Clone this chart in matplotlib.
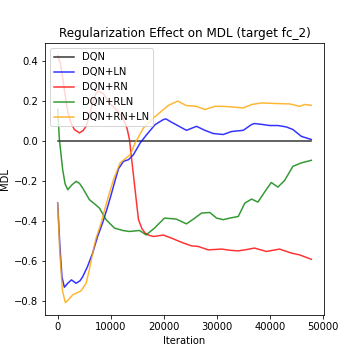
import matplotlib
matplotlib.use("Agg")
import matplotlib.pyplot as plt

dqn_x = [0, 47800]
dqn_y = [0.0, 0.0]

ln_x = [0, 400, 800, 1260, 1900, 2600, 3470, 4200, 4720, 5600, 6600, 7500, 8490, 9300, 10070, 10800, 11450, 12400,
        13340, 14280, 15550, 16790, 18380, 19940, 20400, 21510, 23090, 24280, 26170, 27740, 29320, 31210, 32770,
        34980, 36550, 37110, 38680, 39940, 41510, 43090, 44340, 45920, 47810]
ln_y = [-0.311, -0.52, -0.68, -0.732, -0.712, -0.695, -0.712, -0.700, -0.679, -0.63, -0.560, -0.48, -0.408, -0.34,
        -0.270, -0.20, -0.140, -0.102, -0.094, -0.069, -0.010, 0.032, 0.082, 0.107, 0.110, 0.093, 0.070, 0.053, 0.073,
        0.053, 0.037, 0.032, 0.047, 0.053, 0.082, 0.087, 0.082, 0.077, 0.077, 0.070, 0.057, 0.023, 0.007]

rn_x = [0, 500, 940, 1400, 1890, 2500, 3150, 4090, 4800, 5360, 6000, 6600, 7100, 7550, 8490, 9750, 11020, 12000,
        12580, 13100, 13530, 14400, 15230, 15900, 16490, 17200, 18060, 19940, 21800, 23720, 25230, 26490, 28380, 30890,
        32500, 34040, 35300, 37110, 39320, 41830, 44030, 45600, 47810]
rn_y = [0.427, 0.39, 0.316, 0.23, 0.148, 0.09, 0.057, 0.040, 0.052, 0.073, 0.13, 0.190, 0.230, 0.249, 0.240, 0.190,
        0.157, 0.125, 0.098, 0.06, 0.007, -0.20, -0.394, -0.44, -0.461, -0.472, -0.478, -0.471, -0.490, -0.511, -0.525,
        -0.528, -0.545, -0.541, -0.547, -0.550, -0.545, -0.536, -0.553, -0.541, -0.561, -0.570, -0.592]

rln_x = [0, 320, 940, 1400, 1890, 2600, 3470, 4100, 4720, 5980, 6920, 7870, 9130, 10700, 12260, 13530, 15420, 16680,
         18250, 20130, 22340, 24280, 25850, 27110, 28680, 29940, 31210, 32450, 34040, 35280, 36550, 37740, 39000, 40260,
         41510, 42770, 44340, 45920, 47810]
rln_y = [0.157, 0.007, -0.144, -0.215, -0.244, -0.222, -0.202, -0.212, -0.236, -0.294, -0.314, -0.336, -0.394, -0.436,
         -0.448, -0.453, -0.448, -0.470, -0.436, -0.386, -0.391, -0.415, -0.386, -0.361, -0.358, -0.386, -0.394, -0.386,
         -0.378, -0.311, -0.291, -0.306, -0.256, -0.208, -0.231, -0.198, -0.127, -0.110, -0.097]

rnln_x = [0, 400, 900, 1450, 2000, 2830, 3600, 4410, 5360, 6000, 6600, 7200, 8190, 9000, 9750, 10510, 11770, 13660,
          14600, 16170, 18060, 19940, 20890, 22450, 22640, 24230, 26170, 27740, 29620, 31210, 32770, 34980, 36550,
          38370, 41200, 43720, 45600, 46550, 47810]
rnln_y = [-0.311, -0.56, -0.75, -0.809, -0.795, -0.770, -0.760, -0.750, -0.712, -0.64, -0.561, -0.49, -0.410, -0.33,
          -0.261, -0.194, -0.110, -0.069, -0.010, 0.065, 0.115, 0.157, 0.178, 0.197, 0.199, 0.177, 0.173, 0.157, 0.173,
          0.173, 0.170, 0.165, 0.182, 0.190, 0.187, 0.185, 0.173, 0.182, 0.178]

labels = ["DQN", "DQN+LN", "DQN+RN", "DQN+RLN", "DQN+RN+LN"]
colors = ["black", "blue", "red", "green", "orange"]

fig = plt.figure(figsize=(5, 5), dpi=72)
ax = fig.add_subplot(111)
fig.subplots_adjust(left=0.125, right=0.9, bottom=0.125, top=0.88)

series = [(dqn_x, dqn_y), (ln_x, ln_y), (rn_x, rn_y), (rln_x, rln_y), (rnln_x, rnln_y)]
for (xs, ys), lab, c in zip(series, labels, colors):
    ax.plot(xs, ys, color=c, label=lab, alpha=0.8, linewidth=1.5)

ax.set_title("Regularization Effect on MDL (target fc_2)")
ax.set_xlabel("Iteration")
ax.set_ylabel("MDL")
ax.legend(loc="upper left")
ax.set_xticks([0, 10000, 20000, 30000, 40000, 50000])
fig.savefig("out.png", dpi=72)
